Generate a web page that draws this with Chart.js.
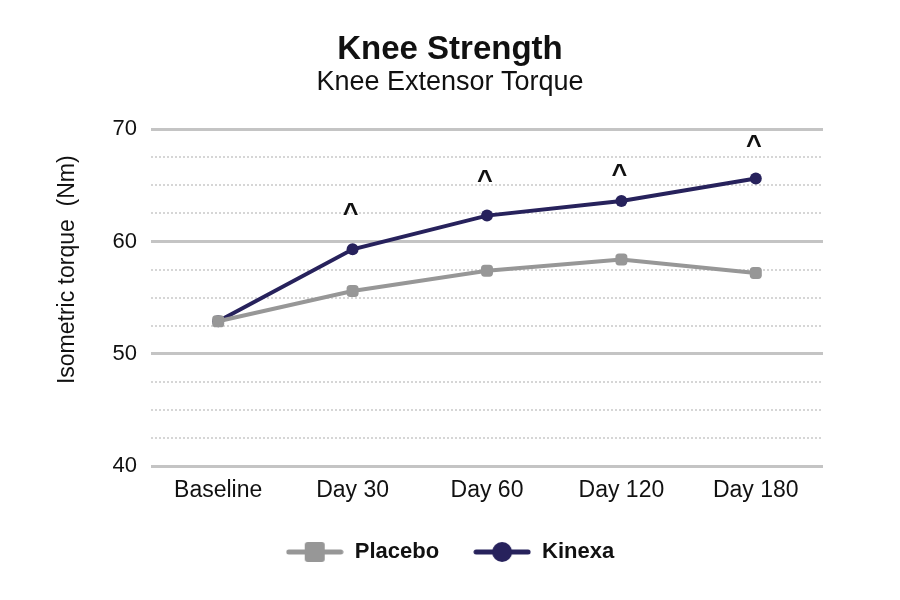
<!DOCTYPE html>
<html>
<head>
<meta charset="utf-8">
<script src="https://cdn.jsdelivr.net/npm/chart.js@4.4.0/dist/chart.umd.min.js"></script>
<style>
  body { margin: 0; background: #fff; }
  #wrap { width: 900px; height: 600px; }
</style>
</head>
<body>
<div id="wrap"><canvas id="kneeStrength" width="900" height="600"></canvas></div>
<script>
// data
const categories = ['Baseline', 'Day 30', 'Day 60', 'Day 120', 'Day 180'];
const placeboValues = [52.9, 55.6, 57.4, 58.4, 57.2];
const kinexaValues = [52.9, 59.3, 62.3, 63.6, 65.6];
// level (Nm) where the "^" significance marks sit
const caretLevels = [null, 63.0, 65.9, 66.4, 69.0];
const yTicksMajor = [40, 50, 60, 70];
const yTitle = 'Isometric torque  (Nm)';

const placeboColor = '#979797';
const kinexaColor = '#27225c';
const FONT = 'Liberation Sans, Arial, sans-serif';

// legend icon: short line with marker in the middle
function legendIcon(color, shape) {
  let c = document.createElement('canvas');
  c.width = 58; c.height = 22;
  let g = c.getContext('2d');
  g.strokeStyle = color;
  g.lineWidth = 5;
  g.lineCap = 'round';
  g.beginPath(); g.moveTo(3, 11); g.lineTo(55, 11); g.stroke();
  g.fillStyle = color;
  if (shape === 'circle') {
    g.beginPath(); g.arc(29, 11, 10, 0, Math.PI * 2); g.fill();
  } else {
    g.beginPath(); g.roundRect(19, 1, 20, 20, 3); g.fill();
  }
  return c;
}
const legendIcons = [legendIcon(placeboColor, 'rect'), legendIcon(kinexaColor, 'circle')];

// "^" marks and the y axis title (sits a bit above the middle in the reference)
const extrasPlugin = {
  id: 'extras',
  afterDatasetsDraw(chart) {
    const {ctx, chartArea, scales: {x, y}} = chart;
    ctx.save();
    ctx.fillStyle = '#111';
    ctx.font = 'bold 27px ' + FONT;
    ctx.textAlign = 'center';
    ctx.textBaseline = 'alphabetic';
    caretLevels.forEach((lvl, i) => {
      if (lvl == null) return;
      ctx.fillText('^', x.getPixelForValue(i) - 2, y.getPixelForValue(lvl) + 14);
    });
    ctx.font = '23px ' + FONT;
    ctx.textBaseline = 'middle';
    ctx.translate(y.left + 2, (chartArea.top + chartArea.bottom) / 2 - 28);
    ctx.rotate(-Math.PI / 2);
    ctx.fillText(yTitle, 0, 0);
    ctx.restore();
  }
};

const dataKnee = {
  labels: categories,
  datasets: [
    {
      label: 'Placebo',
      data: placeboValues,
      borderColor: placeboColor,
      backgroundColor: placeboColor,
      borderWidth: 4,
      pointStyle: 'rectRounded',
      pointRadius: 7,
      pointHoverRadius: 7,
      pointBorderWidth: 0,
      tension: 0
    },
    {
      label: 'Kinexa',
      data: kinexaValues,
      borderColor: kinexaColor,
      backgroundColor: kinexaColor,
      borderWidth: 4,
      pointStyle: 'circle',
      pointRadius: 6,
      pointHoverRadius: 6,
      pointBorderWidth: 0,
      tension: 0
    }
  ]
};

const configKnee = {
  type: 'line',
  data: dataKnee,
  plugins: [extrasPlugin],
  options: {
    responsive: false,
    animation: false,
    devicePixelRatio: 1,
    layout: { padding: { left: 66, right: 66, top: 0, bottom: 27 } },
    scales: {
      x: {
        offset: true,
        grid: { display: false, drawTicks: false },
        border: { display: false },
        ticks: { color: '#111', font: { family: FONT, size: 23 }, padding: 10 },
        afterFit: s => { s.height -= 7; }
      },
      y: {
        min: 40,
        max: 70,
        grid: {
          drawTicks: false,
          color: c => (c.tick && c.tick.value % 10 === 0) ? '#c4c4c4' : '#d6d6d6',
          lineWidth: c => (c.tick && c.tick.value % 10 === 0) ? 3 : 2
        },
        border: {
          display: false,
          dash: c => (c.tick && c.tick.value % 10 !== 0) ? [2, 2] : []
        },
        ticks: {
          stepSize: 2.5,
          autoSkip: false,
          color: '#111',
          font: { family: FONT, size: 22 },
          padding: 14,
          callback: v => yTicksMajor.includes(v) ? v : ''
        },
        afterFit: s => { s.width = 85; }
      },
      // empty spacer on the right so the plot ends where the reference does
      yRight: {
        position: 'right',
        grid: { display: false },
        border: { display: false },
        ticks: { display: false },
        afterFit: s => { s.width = 11; }
      }
    },
    plugins: {
      title: {
        display: true,
        text: 'Knee Strength',
        color: '#111',
        font: { family: FONT, size: 33, weight: 'bold' },
        padding: { top: 30, bottom: -3 }
      },
      subtitle: {
        display: true,
        text: 'Knee Extensor Torque',
        color: '#111',
        font: { family: FONT, size: 27 },
        padding: { top: 0, bottom: 30 }
      },
      legend: {
        position: 'bottom',
        labels: {
          usePointStyle: true,
          pointStyleWidth: 58,
          padding: 34,
          color: '#111',
          font: { family: FONT, size: 22, weight: 'bold' },
          generateLabels: chart => Chart.defaults.plugins.legend.labels.generateLabels(chart)
            .map((l, i) => Object.assign(l, { pointStyle: legendIcons[i] }))
        }
      },
      tooltip: { enabled: false }
    }
  }
};

let kneeGraph = new Chart(document.getElementById('kneeStrength'), configKnee);
</script>
</body>
</html>
